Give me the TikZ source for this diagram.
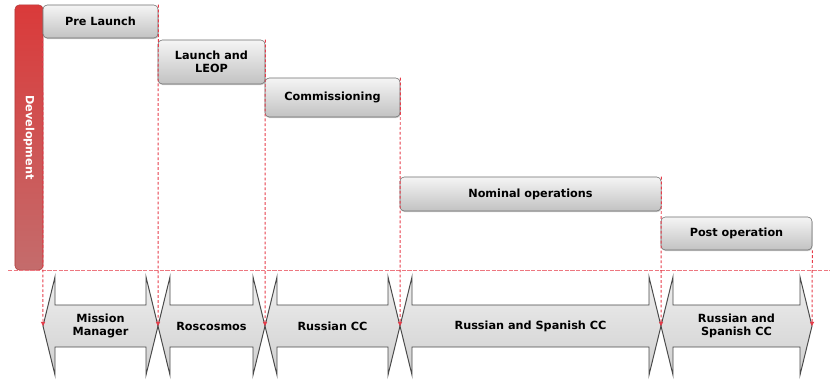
\documentclass[tikz,border=0pt]{standalone}
\usepackage{fontspec}
\setmainfont{DejaVu Sans}
\usetikzlibrary{arrows.meta, shadows}

\definecolor{boxtop}{HTML}{F5F5F5}
\definecolor{boxbot}{HTML}{C2C2C2}
\definecolor{boxedge}{HTML}{6E6E6E}
\definecolor{arrtop}{HTML}{EEEEEE}
\definecolor{arrbot}{HTML}{D0D0D0}
\definecolor{arredge}{HTML}{4A4A4A}
\definecolor{devtop}{HTML}{DA3A3A}
\definecolor{devbot}{HTML}{C46C6C}
\definecolor{devedge}{HTML}{B23A3A}
\definecolor{markred}{HTML}{E63C4A}

\tikzset{
  phase/.style={draw=boxedge, rounded corners=3pt, top color=boxtop, bottom color=boxbot,
    font=\bfseries\fontsize{8}{9.5}\selectfont, text=black, align=center, inner sep=1pt,
    drop shadow={shadow xshift=0.4pt, shadow yshift=-0.8pt, opacity=0.4}},
  phasearrow/.style={draw=arredge, line width=0.7pt, top color=arrtop, bottom color=arrbot},
  arrowtext/.style={font=\bfseries\fontsize{8}{9.5}\selectfont, text=black, align=center},
  marker/.style={markred, line width=0.7pt, dash pattern=on 2pt off 1.5pt,
    -{Triangle[length=3pt,width=3pt]}},
  baseline/.style={markred!70, line width=0.5pt, dash pattern=on 3pt off 1pt}
}

\begin{document}
\begin{tikzpicture}[x=0.025cm, y=-0.025cm]
\useasboundingbox (0,0) rectangle (830,380);

% responsible parties
\foreach \xa/\xb/\nm/\txt in {43/158/mm/{Mission\\Manager}, 158/265/rosc/Roscosmos,
    265/400/rcc/Russian CC, 400/661/rscc/Russian and Spanish CC,
    661/812/rsccb/{Russian and\\Spanish CC}} {
  \draw[phasearrow] (\xa,326) -- ({\xa+12},277) -- ({\xa+12},305) -- ({\xb-12},305)
    -- ({\xb-12},277) -- (\xb,326) -- ({\xb-12},375) -- ({\xb-12},347)
    -- ({\xa+12},347) -- ({\xa+12},375) -- cycle;
  \node[arrowtext] (\nm) at ({(\xa+\xb)/2},326) {\txt};
  \coordinate (\nm-l) at (\xa,326);
  \coordinate (\nm-r) at (\xb,326);
}

% development bar
\node[draw=devedge, rounded corners=3pt, top color=devtop, bottom color=devbot,
  minimum width=0.7cm, minimum height=6.625cm, inner sep=0pt,
  label={[rotate=-90, text=white, font=\bfseries\fontsize{8}{9.5}\selectfont]center:Development}]
  (devel) at (29,137.5) {};

% mission phases
\node[phase, minimum width=2.875cm, minimum height=0.825cm] (prelaunch) at (100.5,21.5) {Pre Launch};
\node[phase, minimum width=2.675cm, minimum height=1.1cm] (leop) at (211.5,62) {Launch and\\LEOP};
\node[phase, minimum width=3.375cm, minimum height=0.975cm] (commis) at (332.5,97.5) {Commissioning};
\node[phase, minimum width=6.525cm, minimum height=0.85cm] (nominal) at (530.5,194) {Nominal operations};
\node[phase, minimum width=3.775cm, minimum height=0.825cm] (postop) at (736.5,233.5) {Post operation};

% phase limits
\draw[baseline] (8,270) -- (830,270);
\draw[marker] (prelaunch.south west) -- (mm-l);
\draw[marker] (prelaunch.north east) -- (mm-r);
\draw[marker] (leop.north east) -- (rosc-r);
\draw[marker] (commis.north east) -- (rcc-r);
\draw[marker] (nominal.north east) -- (rscc-r);
\draw[marker] (postop.south east) -- (rsccb-r);
\end{tikzpicture}
\end{document}
